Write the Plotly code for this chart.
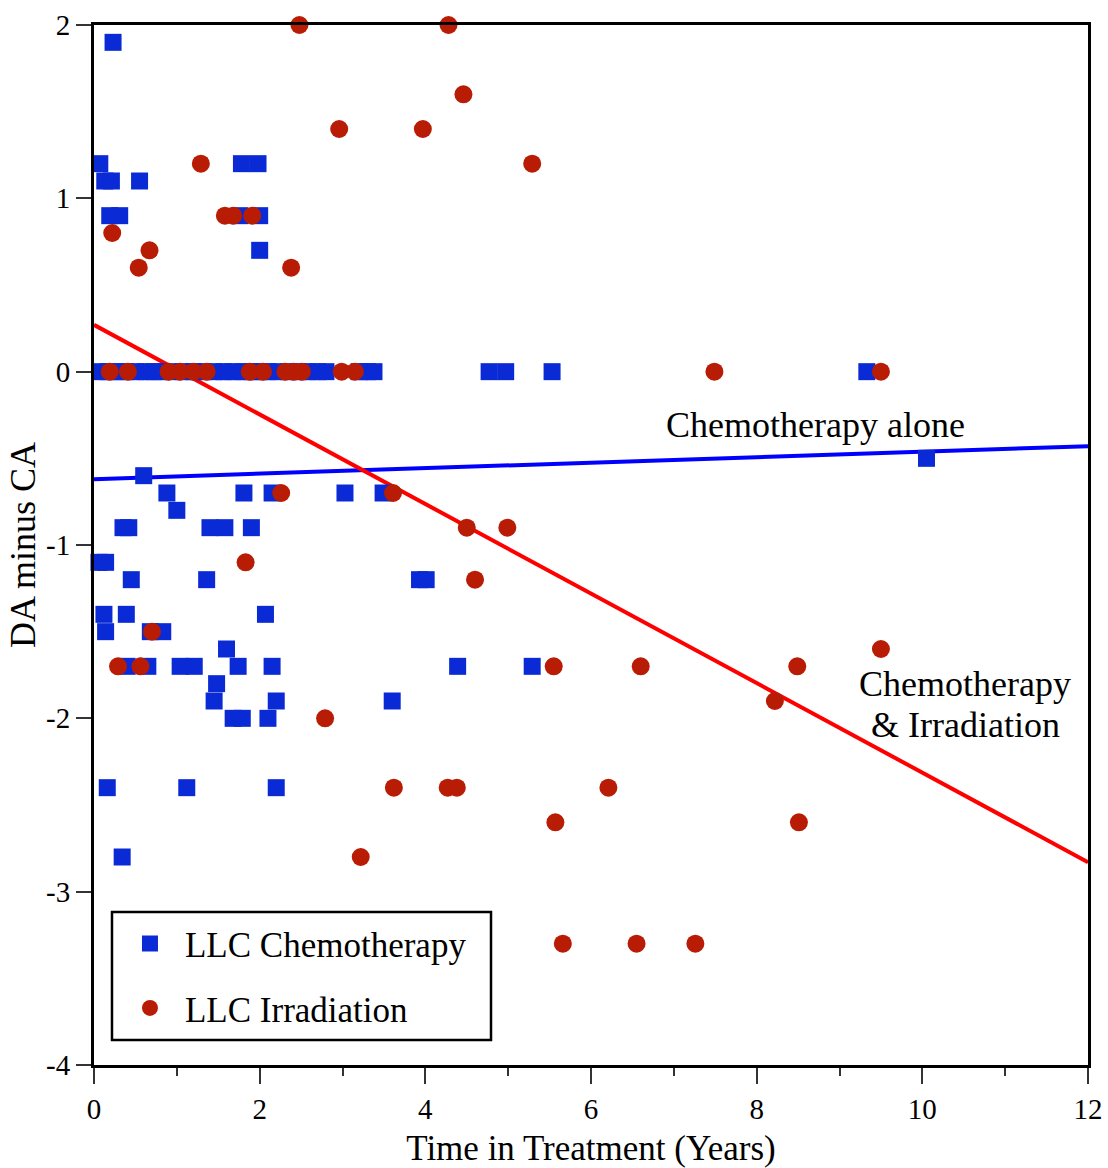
import plotly.graph_objects as go

# LLC Chemotherapy: time in treatment (years) and DA minus CA
chemo_x = [0.23,
           0.07, 1.78, 1.98,
           0.13, 0.21, 0.55,
           0.19, 0.31, 1.76, 2.0,
           2.0,
           0.07, 0.17, 0.27, 0.38, 0.5, 0.62, 0.72, 0.82, 0.95, 1.08, 1.2, 1.32,
           1.45, 1.57, 1.68, 1.8, 1.9, 2.0, 2.1, 2.22, 2.35, 2.47, 2.58, 2.7,
           2.8, 3.2, 3.3, 3.38, 4.77, 4.97, 5.53, 9.33,
           10.05,
           0.6,
           0.88, 1.81, 2.15, 3.03, 3.49,
           1.0,
           0.35, 0.42, 1.4, 1.58, 1.9,
           0.06, 0.14,
           0.45, 1.36, 3.93, 4.01,
           0.12, 0.39, 2.07,
           0.14, 0.68, 0.83,
           1.6,
           0.4, 0.65, 1.04, 1.21, 1.74, 2.15, 4.39, 5.29,
           1.48,
           1.45, 2.2, 3.6,
           1.68, 1.79, 2.1,
           0.16, 1.12, 2.2,
           0.34]
chemo_y = [1.9,
           1.2, 1.2, 1.2,
           1.1, 1.1, 1.1,
           0.9, 0.9, 0.9, 0.9,
           0.7,
           0, 0, 0, 0, 0, 0, 0, 0, 0, 0, 0, 0,
           0, 0, 0, 0, 0, 0, 0, 0, 0, 0, 0, 0,
           0, 0, 0, 0, 0, 0, 0, 0,
           -0.5,
           -0.6,
           -0.7, -0.7, -0.7, -0.7, -0.7,
           -0.8,
           -0.9, -0.9, -0.9, -0.9, -0.9,
           -1.1, -1.1,
           -1.2, -1.2, -1.2, -1.2,
           -1.4, -1.4, -1.4,
           -1.5, -1.5, -1.5,
           -1.6,
           -1.7, -1.7, -1.7, -1.7, -1.7, -1.7, -1.7, -1.7,
           -1.8,
           -1.9, -1.9, -1.9,
           -2.0, -2.0, -2.0,
           -2.4, -2.4, -2.4,
           -2.8]

# LLC Irradiation: time in treatment (years) and DA minus CA
irrad_x = [2.48, 4.28,
           4.46,
           2.96, 3.97,
           1.29, 5.29,
           1.58, 1.68, 1.91,
           0.22,
           0.67,
           0.54, 2.38,
           0.19, 0.41, 0.9, 1.04, 1.2, 1.36, 1.88, 2.04, 2.31, 2.41, 2.51,
           2.99, 3.15, 7.49, 9.5,
           2.26, 3.61,
           4.5, 4.99,
           1.83,
           4.6,
           0.7,
           9.5,
           0.29, 0.56, 5.55, 6.6, 8.49,
           8.22,
           2.79,
           3.62, 4.27, 4.38, 6.21,
           5.57, 8.51,
           3.22,
           5.66, 6.55, 7.26]
irrad_y = [2.0, 2.0,
           1.6,
           1.4, 1.4,
           1.2, 1.2,
           0.9, 0.9, 0.9,
           0.8,
           0.7,
           0.6, 0.6,
           0, 0, 0, 0, 0, 0, 0, 0, 0, 0, 0,
           0, 0, 0, 0,
           -0.7, -0.7,
           -0.9, -0.9,
           -1.1,
           -1.2,
           -1.5,
           -1.6,
           -1.7, -1.7, -1.7, -1.7, -1.7,
           -1.9,
           -2.0,
           -2.4, -2.4, -2.4, -2.4,
           -2.6, -2.6,
           -2.8,
           -3.3, -3.3, -3.3]

# Fitted trend lines, evaluated at the ends of the time range
fit_x = [0, 12]
chemo_fit_y = [-0.62, -0.43]
irrad_fit_y = [0.27, -2.83]

x_ticks = [0, 2, 4, 6, 8, 10, 12]
y_ticks = [2, 1, 0, -1, -2, -3, -4]
y_tick_text = ["2", "1", "0", "-1", "-2", "-3", "-4"]

FONT = "Liberation Serif"
BLUE = "#0a2ad6"
RED = "#b91c05"

fig = go.Figure()

fig.add_trace(go.Scatter(
    x=fit_x, y=chemo_fit_y, mode="lines",
    line=dict(color="#0000ff", width=4), showlegend=False, hoverinfo="skip"))
fig.add_trace(go.Scatter(
    x=fit_x, y=irrad_fit_y, mode="lines",
    line=dict(color="#ff0000", width=4), showlegend=False, hoverinfo="skip"))

fig.add_trace(go.Scatter(
    x=chemo_x, y=chemo_y, mode="markers", name="LLC Chemotherapy",
    legendgroup="chemo",
    marker=dict(symbol="square", size=17, color=BLUE, line=dict(width=0)),
    cliponaxis=False))
fig.add_trace(go.Scatter(
    x=irrad_x, y=irrad_y, mode="markers", name="LLC Irradiation",
    legendgroup="irrad",
    marker=dict(symbol="circle", size=18, color=RED, line=dict(width=0)),
    cliponaxis=False))

fig.add_annotation(x=8.71, y=-0.31, text="Chemotherapy alone", showarrow=False,
                   font=dict(family=FONT, size=36, color="black"))
fig.add_annotation(x=10.52, y=-1.8, text="Chemotherapy", showarrow=False,
                   font=dict(family=FONT, size=36, color="black"))
fig.add_annotation(x=10.52, y=-2.04, text="&amp; Irradiation", showarrow=False,
                   font=dict(family=FONT, size=36, color="black"))

# Legend frame
fig.add_shape(type="rect", xref="paper", yref="paper",
              x0=0.0181, x1=0.3994, y0=0.024, y1=0.1471,
              line=dict(color="black", width=2.5), fillcolor="white",
              layer="above")

fig.update_xaxes(
    range=[0, 12], tickvals=x_ticks, ticks="outside", ticklen=16, tickwidth=1.5,
    tickcolor="#333333", showline=True, linewidth=3, linecolor="black",
    mirror=True, showgrid=False, zeroline=False,
    minor=dict(dtick=1, tick0=0, ticks="outside", ticklen=8, tickwidth=1.5,
               tickcolor="#333333", showgrid=False),
    tickfont=dict(family=FONT, size=29, color="black"),
    title=dict(text="Time in Treatment (Years)", standoff=12,
               font=dict(family=FONT, size=35, color="black")))
fig.update_yaxes(
    range=[-4, 2], tickvals=y_ticks, ticktext=y_tick_text, ticks="outside",
    ticklen=15, tickwidth=1.5, tickcolor="#333333", showline=True,
    linewidth=3, linecolor="black", mirror=True, showgrid=False,
    zeroline=False, tickfont=dict(family=FONT, size=29, color="black"),
    title=dict(text="DA minus CA", standoff=0,
               font=dict(family=FONT, size=36, color="black")))

fig.update_layout(
    width=1108, height=1168,
    margin=dict(l=94, r=20, t=25, b=103, autoexpand=False),
    paper_bgcolor="white", plot_bgcolor="white",
    font=dict(family=FONT, color="black"),
    legend=dict(x=0.0211, y=0.1450, xanchor="left", yanchor="top",
                bgcolor="rgba(0,0,0,0)", borderwidth=0,
                traceorder="grouped", tracegroupgap=16, itemwidth=60,
                font=dict(family=FONT, size=35, color="black")),
)

fig.write_html("out.html")
